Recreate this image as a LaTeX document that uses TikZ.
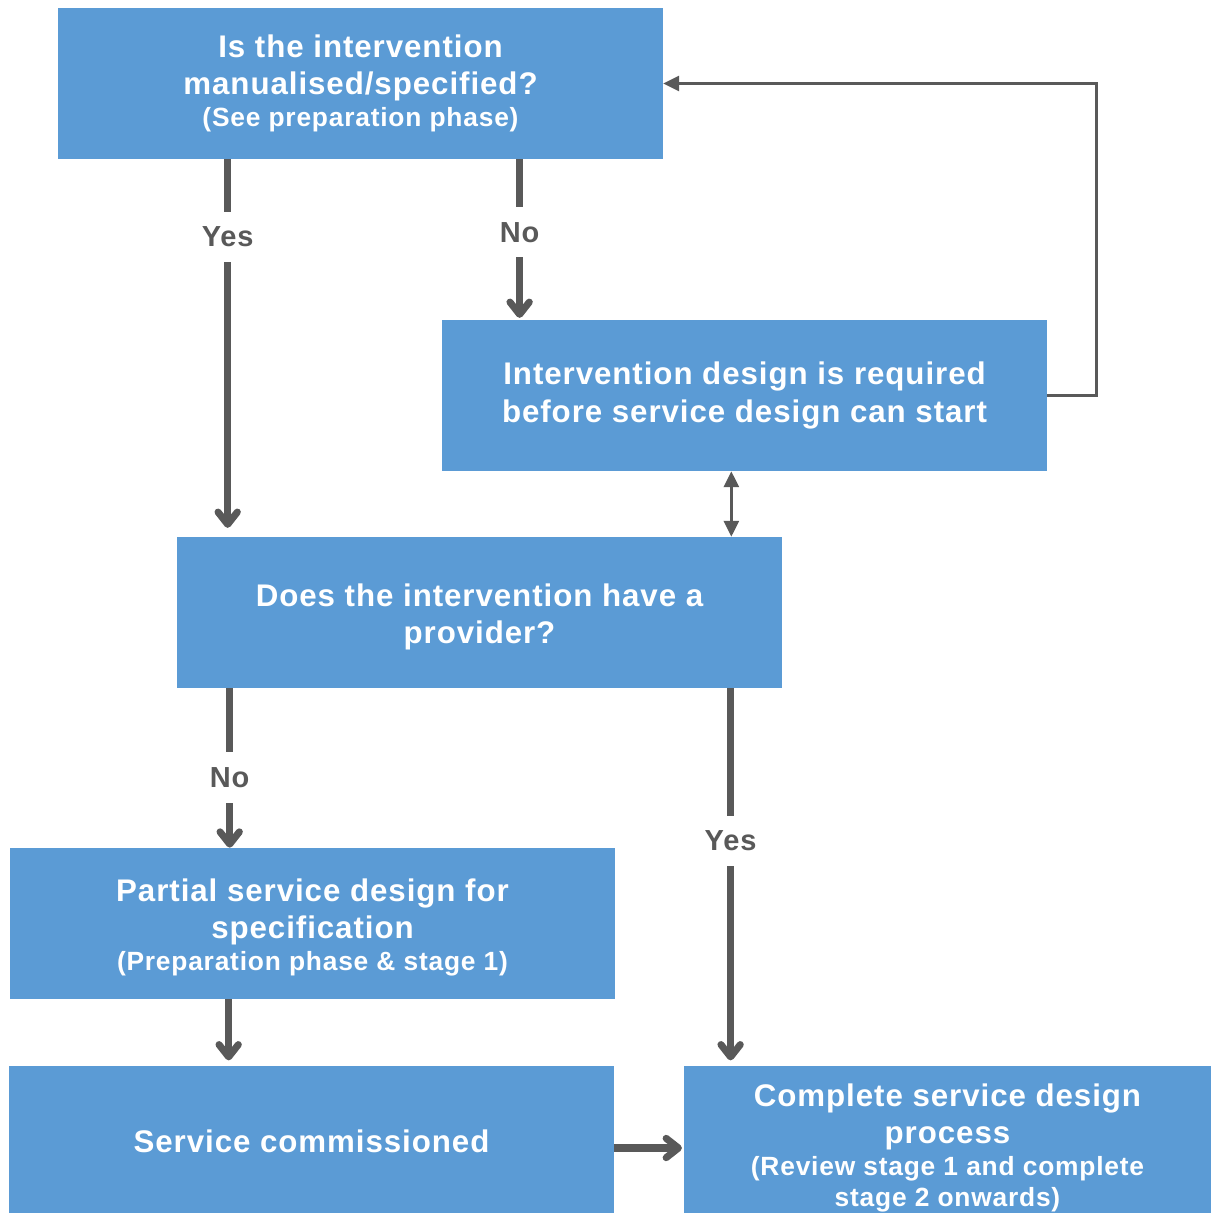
\documentclass[tikz,border=0pt]{standalone}
\usepackage{fontspec}
\setmainfont{Liberation Sans}[LetterSpace=3]
\usepackage{tikz}
\usetikzlibrary{arrows.meta, positioning, calc}
\definecolor{BoxBlue}{HTML}{5B9BD5}
\definecolor{LineGrey}{HTML}{595959}
\newcommand{\subnote}[1]{{\fontsize{15}{17}\selectfont #1}}
\newcommand{\lowerby}[1]{\rule{0pt}{#1}}
\tikzset{tri/.tip={Triangle[length=9pt, width=8.5pt]}}

\begin{document}
\begin{tikzpicture}[x=0.02cm, y=-0.02cm,
    stagebox/.style={rectangle, fill=BoxBlue, text=white, align=center,
          minimum width=12.1cm, minimum height=3.02cm, inner sep=0pt,
          font=\fontsize{17.8}{21.3}\selectfont\bfseries},
    flow/.style={draw=LineGrey, line width=4pt, -{Straight Barb[round, length=7pt, width=11pt]}},
    thinflow/.style={draw=LineGrey, line width=1.6pt},
    answer/.style={fill=white, text=LineGrey, inner xsep=2pt, inner ysep=0.3cm,
          font=\fontsize{16.5}{19}\selectfont\bfseries}]
    \useasboundingbox (0,0) rectangle (1211,1213);

    % boxes
    \node[stagebox] (manual) at (360.5,83.5) {Is the intervention\\
        manualised/specified?\\[-3pt] \subnote{(See preparation phase)}};
    \node[stagebox] (design) at (744.5,395.5) {Intervention design is required\\
        before service design can start};
    \node[stagebox] (provider) at (479.5,612.5) {\lowerby{0.64cm}Does the intervention have a\\ provider?};
    \node[stagebox] (partial) at (312.5,923.5) {\lowerby{0.61cm}Partial service design for\\
        specification\\[-3pt] \subnote{(Preparation phase \& stage 1)}};
    \node[stagebox] (commission) at (311.5,1141.5) {Service commissioned};
    \node[stagebox, minimum width=10.54cm, minimum height=3.26cm] (complete) at (947.5,1147.5)
        {Complete service design\\ process\\[-3pt]
         \subnote{(Review stage 1 and complete}\\[-4pt] \subnote{stage 2 onwards)}};

    % connectors
    \coordinate (yesA) at ([xshift=3.4cm]manual.south west);
    \coordinate (noA) at ([xshift=9.24cm]manual.south west);
    \draw[flow] (yesA) -- node[answer, pos=0.21] {Yes} ([yshift=5pt]yesA |- provider.north);
    \draw[flow] (noA) -- node[answer, pos=0.46] {No} ([yshift=1pt]noA |- design.north);

    \coordinate (loop) at ([xshift=0.98cm]design.east);
    \draw[thinflow, -tri] (design.east) -- (loop) |- (manual.east);

    \coordinate (both) at ([xshift=-6.32cm]design.south east);
    \draw[thinflow, tri-tri] (both) -- (both |- provider.north);

    \coordinate (noB) at ([xshift=1.06cm]provider.south west);
    \coordinate (yesB) at ([xshift=11.08cm]provider.south west);
    \draw[flow] (noB) -- node[answer, pos=0.56] {No} (noB |- partial.north);
    \draw[flow] (yesB) -- node[answer, pos=0.41] {Yes} ([yshift=3pt]yesB |- commission.north);

    \coordinate (specB) at ([xshift=4.38cm]partial.south west);
    \draw[flow] (specB) -- ([yshift=3pt]specB |- commission.north);
    \draw[flow] ([yshift=-0.13cm]commission.east) -- ([yshift=-0.13cm, xshift=-1pt]commission.east -| complete.west);
\end{tikzpicture}
\end{document}
